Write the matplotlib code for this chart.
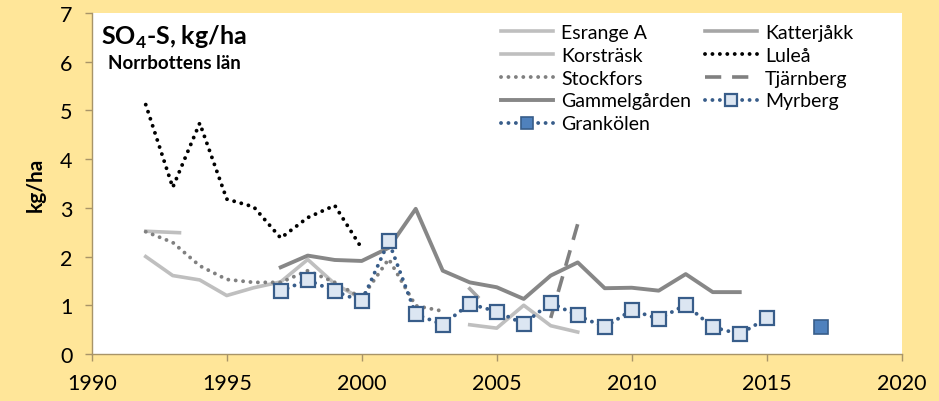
#!/usr/bin/env python3
# SO4-S deposition, Norrbottens län
import numpy as np
from matplotlib import pyplot as plt

nan = np.nan

# data
esrange_yr = list(range(1992, 2009))
esrange = [2.00, 1.61, 1.52, 1.20, 1.36, 1.48, 1.94, 1.44, 1.13,
           nan, nan, nan, 0.60, 0.53, 1.00, 0.58, 0.45]
korstrask_yr = [1992, 1993.25]
korstrask = [2.52, 2.49]
katterjakk_yr = [2004, 2004.3]
katterjakk = [1.34, 1.17]
lulea_yr = list(range(1992, 2001))
lulea = [5.12, 3.42, 4.74, 3.18, 3.02, 2.38, 2.80, 3.05, 2.17]
stockfors_yr = list(range(1992, 2004))
stockfors = [2.51, 2.29, 1.81, 1.53, 1.47, 1.47, 1.71, 1.47, 1.15, 1.95, 0.99, 0.88]
tjarnberg_yr = [2007, 2008]
tjarnberg = [0.74, 2.67]
gammel_yr = list(range(1997, 2015))
gammel = [1.78, 2.02, 1.93, 1.91, 2.18, 2.98, 1.71, 1.47, 1.37, 1.13,
          1.61, 1.88, 1.35, 1.36, 1.30, 1.64, 1.27, 1.27]
myrberg_yr = list(range(1997, 2016))
myrberg = [1.29, 1.52, 1.29, 1.08, 2.31, 0.82, 0.60, 1.03, 0.87, 0.62,
           1.05, 0.79, 0.55, 0.90, 0.72, 1.01, 0.55, 0.41, 0.73]
grankolen_yr = [2017]
grankolen = [0.55]

xticks = [1990, 1995, 2000, 2005, 2010, 2015, 2020]
yticks = [0, 1, 2, 3, 4, 5, 6, 7]

plt.rcParams['font.family'] = ['Lato', 'DejaVu Sans']
plt.rcParams['mathtext.fontset'] = 'custom'
plt.rcParams['mathtext.rm'] = 'Lato'
plt.rcParams['mathtext.bf'] = 'Lato:bold'

bg = '#FFE699'
spine_c = '#A89468'
dots = (0, (0.01, 1.9))

fig = plt.figure(figsize=(9.39, 4.02), dpi=100, facecolor=bg)
ax = fig.add_axes([0.0977, 0.117, 0.8626, 0.848])
ax.set_facecolor('white')

h_esr, = ax.plot(esrange_yr, esrange, color='#BFBFBF', lw=2.6, label='Esrange A')
h_kor, = ax.plot(korstrask_yr, korstrask, color='#BFBFBF', lw=2.6, label='Korsträsk')
h_kat, = ax.plot(katterjakk_yr, katterjakk, color='#A6A6A6', lw=2.6, label='Katterjåkk')
h_lul, = ax.plot(lulea_yr, lulea, color='black', lw=2.8, ls=dots,
                 dash_capstyle='round', label='Luleå')
h_sto, = ax.plot(stockfors_yr, stockfors, color='#808080', lw=2.8, ls=dots,
                 dash_capstyle='round', label='Stockfors')
h_tja, = ax.plot(tjarnberg_yr, tjarnberg, color='#808080', lw=2.6, ls=(0, (4.5, 3)),
                 label='Tjärnberg')
h_gam, = ax.plot(gammel_yr, gammel, color='#878787', lw=2.8, label='Gammelgården')
h_myr, = ax.plot(myrberg_yr, myrberg, color='#385D8A', lw=2.8, ls=dots,
                 dash_capstyle='round', marker='s', ms=10, mfc='#DCE6F2',
                 mec='#385D8A', mew=1.6, label='Myrberg')
h_gra, = ax.plot(grankolen_yr, grankolen, color='#385D8A', lw=2.8, ls=dots,
                 dash_capstyle='round', marker='s', ms=10, mfc='#4F81BD',
                 mec='#385D8A', mew=1.2, label='Grankölen')

# axis format
ax.set_xlim(1990, 2020)
ax.set_ylim(0, 7)
ax.set_xticks(xticks)
ax.set_yticks(yticks)
for side in ['top', 'right']:
    ax.spines[side].set_visible(False)
for side in ['left', 'bottom']:
    ax.spines[side].set_color(spine_c)
    ax.spines[side].set_linewidth(1.0)
ax.tick_params(which='both', direction='out', length=5, width=1.0, color=spine_c,
               labelsize=15.5, pad=9)
ax.set_ylabel('kg/ha', fontsize=15, fontweight='bold', labelpad=10)

ax.text(0.012, 0.91, r'SO$_\mathbf{4}$-S, kg/ha', transform=ax.transAxes,
        fontsize=18, fontweight='bold')
ax.text(0.02, 0.84, 'Norrbottens län', transform=ax.transAxes,
        fontsize=13.5, fontweight='bold')

# legend in two columns
leg_kw = dict(frameon=False, fontsize=14, handlelength=2.7, handletextpad=0.4,
              labelspacing=0.3, borderaxespad=0, borderpad=0, loc='upper left',
              markerscale=0.8)
col1 = [h_esr, h_kor, h_sto, h_gam, h_gra]
col2 = [h_kat, h_lul, h_tja, h_myr]
leg1 = ax.legend(col1, [h.get_label() for h in col1],
                 bbox_to_anchor=(0.505, 0.968), **leg_kw)
ax.add_artist(leg1)
ax.legend(col2, [h.get_label() for h in col2],
          bbox_to_anchor=(0.757, 0.968), **leg_kw)

fig.savefig('out.png', dpi=100, facecolor=bg)
